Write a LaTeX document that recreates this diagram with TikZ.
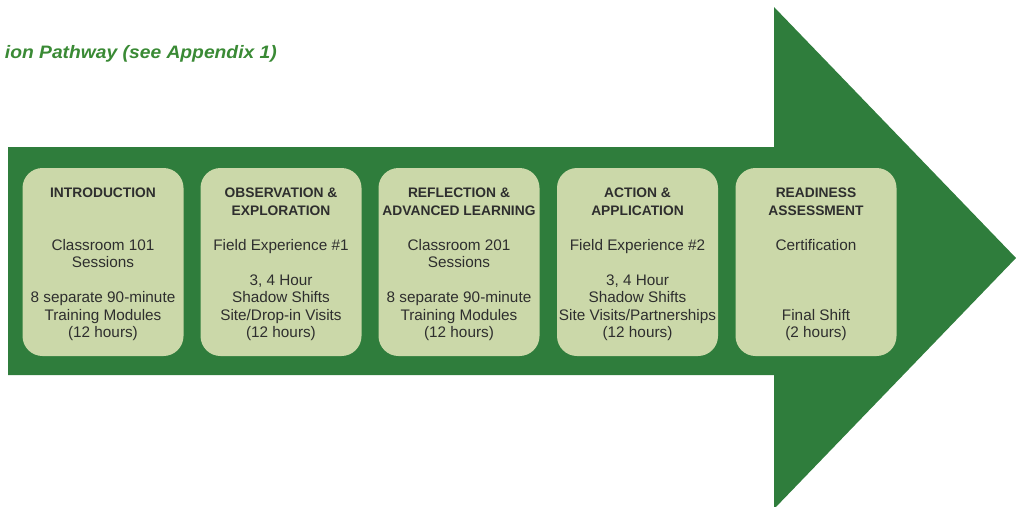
\documentclass[tikz,border=0pt]{standalone}
\usepackage{fontspec}
\setmainfont{Liberation Sans}
\definecolor{arrowgreen}{HTML}{2F7D3C}
\definecolor{boxfill}{HTML}{CBD8A9}
\definecolor{titlegreen}{HTML}{3A8A35}
\definecolor{inktext}{HTML}{2E2E2E}
\tikzset{
  stagebox/.style={fill=boxfill, draw=none, rounded corners=20pt,
    minimum width=161pt, minimum height=188pt, inner sep=0pt},
  stagehead/.style={anchor=north, inner sep=0pt, align=center, text=inktext,
    font=\fontsize{13.8pt}{18pt}\selectfont\bfseries},
  stagebody/.style={anchor=north, inner sep=0pt, align=center, text=inktext,
    font=\fontsize{15.3pt}{17.5pt}\selectfont},
}
\begin{document}
\begin{tikzpicture}[x=1pt,y=-1pt]
\useasboundingbox (0,0) rectangle (1016,506);
\clip (0,0) rectangle (1016,506);

% title line
\node[anchor=east, inner sep=0pt, text=titlegreen,
  font=\fontsize{18pt}{20pt}\selectfont\addfontfeatures{FakeStretch=1.07}\bfseries\itshape] (title) at (277,54)
  {ion Pathway (see Appendix 1)};

% big arrow
\fill[arrowgreen] (8,147) -- (774,147) -- (774,7) -- (1016,258)
  -- (774,509) -- (774,375) -- (8,375) -- cycle;

% stages
\node[stagebox] (s1) at (103,262) {};
\node[stagebox] (s2) at (281,262) {};
\node[stagebox] (s3) at (459,262) {};
\node[stagebox] (s4) at (637.5,262) {};
\node[stagebox] (s5) at (816,262) {};

\node[stagehead] (h1) at (103,188) {INTRODUCTION};
\node[stagehead] (h2) at (281,188) {OBSERVATION \&\\EXPLORATION};
\node[stagehead] (h3) at (459,188) {REFLECTION \&\\ADVANCED LEARNING};
\node[stagehead] (h4) at (637.5,188) {ACTION \&\\APPLICATION};
\node[stagehead] (h5) at (816,188) {READINESS\\ASSESSMENT};

\node[stagebody] (b1) at (103,239) {Classroom 101\\Sessions\\[17.5pt]8 separate 90-minute\\Training Modules\\(12 hours)};
\node[stagebody] (b2) at (281,239) {Field Experience \#1\\[17.5pt]3, 4 Hour\\Shadow Shifts\\Site/Drop-in Visits\\(12 hours)};
\node[stagebody] (b3) at (459,239) {Classroom 201\\Sessions\\[17.5pt]8 separate 90-minute\\Training Modules\\(12 hours)};
\node[stagebody] (b4) at (637.5,239) {Field Experience \#2\\[17.5pt]3, 4 Hour\\Shadow Shifts\\Site Visits/Partnerships\\(12 hours)};
\node[stagebody] (b5) at (816,239) {Certification\\[52.5pt]Final Shift\\(2 hours)};
\end{tikzpicture}
\end{document}
